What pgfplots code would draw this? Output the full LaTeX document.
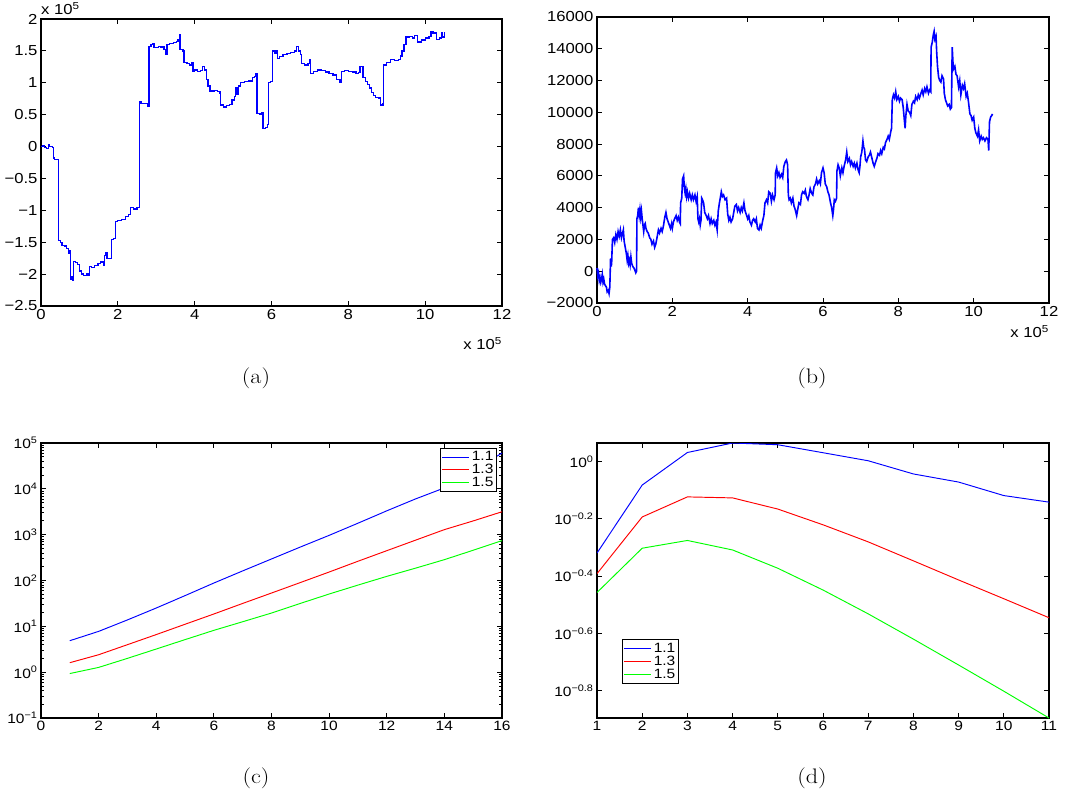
\documentclass[border=0pt]{standalone}
\usepackage{fontspec}
\usepackage{pgfplots}
\pgfplotsset{compat=1.18}
\newfontfamily\hv[FakeStretch=1.15]{Liberation Sans}
\newfontfamily\lmr[FakeStretch=1.15]{Latin Modern Roman}
\definecolor{mblue}{rgb}{0,0,1}
\definecolor{mred}{rgb}{1,0,0}
\definecolor{mgreen}{rgb}{0,1,0}
\pgfplotsset{
  mat/.style={
    scale only axis,
    axis line style={line width=1.1pt},
    every tick/.style={black, line width=0.8pt},
    major tick length=5pt,
    minor tick length=3pt,
    tick align=inside,
    scaled ticks=false,
    tick label style={font=\hv\fontsize{14.5}{15}\selectfont},
    /pgf/number format/assume math mode=true,
  },
  matlog/.style={
    mat,
    tick label style={font=\hv\fontsize{13.5}{14}\selectfont},
    legend cell align=left,
    legend style={draw=black, line width=1pt, font=\hv\fontsize{13.5}{16}\selectfont,
      inner sep=1.5pt, row sep=-2pt},
    legend image code/.code={\draw[#1, line width=1.1pt] (0pt,0pt) -- (27pt,0pt);},
  },
}
\begin{document}
\begin{tikzpicture}
\useasboundingbox (0,0) rectangle (1074pt,807pt);

% ---------------- (a) ----------------
\begin{axis}[mat, at={(41pt,501pt)}, anchor=south west,
  width=461pt, height=287pt,
  xmin=0, xmax=12, ymin=-2.5, ymax=2,
  xtick={0,2,...,12},
  ytick={-2.5,-2,-1.5,-1,-0.5,0,0.5,1,1.5,2},
  yticklabels={−2.5,−2,−1.5,−1,−0.5,0,0.5,1,1.5,2},
  clip=false]
\addplot[const plot, color=mblue, line width=1.3pt] coordinates {
(0,0) (0.05,0.01) (0.1,-0.01) (0.15,-0.03) (0.2,0.03) (0.23,0.0) (0.3,-0.01)
(0.32,-0.18) (0.35,-0.2) (0.45,-0.21) (0.46,-1.47) (0.5,-1.5) (0.55,-1.55)
(0.62,-1.56) (0.67,-1.6) (0.72,-1.68) (0.74,-1.63) (0.76,-2.07) (0.78,-2.09)
(0.8,-2.04) (0.82,-2.1) (0.84,-1.8) (0.9,-1.82) (0.95,-1.85) (1.0,-1.95)
(1.05,-2.0) (1.1,-2.02) (1.2,-2.0) (1.25,-2.02) (1.27,-1.88) (1.32,-1.9)
(1.4,-1.87) (1.48,-1.83) (1.55,-1.81) (1.62,-1.86) (1.65,-1.71) (1.68,-1.67)
(1.72,-1.75) (1.8,-1.76) (1.83,-1.46) (1.88,-1.44) (1.94,-1.18) (2.0,-1.16)
(2.1,-1.14) (2.2,-1.1) (2.28,-1.06) (2.33,-0.96) (2.4,-0.98) (2.5,-0.96)
(2.56,-0.93) (2.57,0.7) (2.6,0.68) (2.7,0.67) (2.78,0.63) (2.81,1.57)
(2.86,1.6) (2.9,1.62) (2.94,1.55) (3.0,1.55) (3.05,1.57) (3.12,1.56)
(3.2,1.52) (3.25,1.45) (3.28,1.6) (3.35,1.62) (3.45,1.63) (3.52,1.65)
(3.57,1.68) (3.6,1.75) (3.62,1.52) (3.7,1.5) (3.72,1.32) (3.8,1.3)
(3.87,1.28) (3.92,1.31) (3.96,1.18) (4.0,1.2) (4.08,1.18) (4.15,1.19)
(4.2,1.26) (4.25,1.2) (4.3,1.05) (4.35,0.95) (4.4,0.87) (4.5,0.88)
(4.6,0.86) (4.66,0.83) (4.68,0.65) (4.75,0.62) (4.82,0.64) (4.9,0.66)
(4.97,0.73) (5.03,0.78) (5.07,0.92) (5.1,0.82) (5.15,0.95) (5.2,1.0)
(5.3,1.02) (5.4,1.03) (5.5,1.08) (5.55,1.1) (5.6,1.15) (5.62,0.52)
(5.7,0.5) (5.75,0.53) (5.78,0.28) (5.85,0.3) (5.9,0.35) (5.92,1.0)
(5.98,1.02) (6.02,1.5) (6.07,1.46) (6.12,1.5) (6.15,1.38) (6.2,1.41)
(6.3,1.44) (6.4,1.46) (6.5,1.48) (6.6,1.5) (6.65,1.57) (6.7,1.5)
(6.75,1.44) (6.78,1.3) (6.85,1.28) (6.95,1.3) (7.0,1.36) (7.02,1.15)
(7.1,1.18) (7.2,1.2) (7.3,1.19) (7.4,1.17) (7.5,1.15) (7.6,1.12)
(7.7,1.05) (7.78,1.0) (7.82,1.18) (7.9,1.19) (8.0,1.18) (8.1,1.17)
(8.2,1.14) (8.27,1.16) (8.3,1.25) (8.37,1.25) (8.38,1.08) (8.45,1.02)
(8.5,0.97) (8.55,0.92) (8.6,0.85) (8.65,0.8) (8.7,0.77) (8.8,0.76)
(8.84,0.65) (8.9,0.68) (8.92,1.28) (9.0,1.32) (9.1,1.36) (9.2,1.35)
(9.3,1.36) (9.35,1.42) (9.4,1.5) (9.45,1.6) (9.5,1.72) (9.6,1.73)
(9.67,1.7) (9.72,1.74) (9.8,1.64) (9.9,1.67) (10.0,1.7) (10.1,1.73)
(10.15,1.8) (10.2,1.78) (10.27,1.78) (10.3,1.68) (10.38,1.7) (10.42,1.78)
(10.45,1.72) (10.5,1.8)
};
\node[anchor=south west, inner sep=0pt, font=\hv\fontsize{14.5}{15}\selectfont] at (rel axis cs:0,1) [yshift=4pt] {x 10\textsuperscript{5}};
\node[anchor=north east, inner sep=0pt, font=\hv\fontsize{14.5}{15}\selectfont] at (rel axis cs:1,0) [yshift=-31pt] {x 10\textsuperscript{5}};
\end{axis}

% ---------------- (b) ----------------
\begin{axis}[mat, at={(597pt,504pt)}, anchor=south west,
  width=452pt, height=286pt,
  xmin=0, xmax=12, ymin=-2000, ymax=16000,
  xtick={0,2,...,12},
  ytick={-2000,0,2000,4000,6000,8000,10000,12000,14000,16000},
  yticklabels={−2000,0,2000,4000,6000,8000,10000,12000,14000,16000},
  clip=false]
\addplot[color=mblue, line width=1.6pt] coordinates {
(0,200) (0.02,-300) (0.04,-100) (0.06,-600) (0.08,-400) (0.1,-700) (0.12,-500)
(0.14,-200) (0.16,-700) (0.18,-500) (0.2,-800) (0.22,-900) (0.25,-1000)
(0.27,-1300) (0.3,-1200) (0.32,-1400) (0.34,-1000) (0.36,800) (0.38,300)
(0.39,600) (0.41,2000) (0.44,2100) (0.47,1800) (0.5,2300) (0.53,2000)
(0.56,2500) (0.59,2200) (0.62,2600) (0.65,2100) (0.68,2400) (0.7,2600)
(0.72,1900) (0.75,1500) (0.78,1100) (0.8,700) (0.82,1000) (0.84,500)
(0.86,700) (0.88,400) (0.9,900) (0.92,500) (0.95,300) (0.98,200) (1.0,100)
(1.03,-100) (1.05,0) (1.06,3300) (1.08,3500) (1.1,4000) (1.12,3500)
(1.14,3900) (1.16,3400) (1.18,3800) (1.2,3300) (1.22,2900) (1.24,2500)
(1.26,2900) (1.28,3000) (1.3,2700) (1.33,2500) (1.36,2400) (1.4,2100)
(1.43,2000) (1.46,1700) (1.5,1900) (1.53,1500) (1.56,1700) (1.6,2200)
(1.63,2600) (1.66,2400) (1.7,2700) (1.73,2500) (1.76,2800) (1.8,3400)
(1.83,3700) (1.86,3300) (1.89,3100) (1.92,2900) (1.95,2700) (1.98,3000)
(2.0,2700) (2.03,3100) (2.06,3300) (2.1,3500) (2.13,3200) (2.16,3400)
(2.19,3100) (2.21,3000) (2.22,4300) (2.25,4600) (2.27,5800) (2.3,6000)
(2.32,5200) (2.34,4900) (2.36,5200) (2.38,4700) (2.4,5000) (2.43,4600)
(2.46,4900) (2.5,4500) (2.53,4800) (2.56,4500) (2.6,4800) (2.63,4400)
(2.66,4700) (2.68,3300) (2.7,3100) (2.72,3300) (2.74,2900) (2.76,3200)
(2.78,4600) (2.8,4500) (2.83,4300) (2.86,3700) (2.9,3500) (2.93,3300)
(2.96,3500) (3.0,3000) (3.03,3300) (3.06,3000) (3.1,3200) (3.13,2900)
(3.16,3100) (3.19,2600) (3.22,3800) (3.25,4300) (3.28,4700) (3.3,5000)
(3.33,4700) (3.36,4800) (3.4,4500) (3.44,4600) (3.47,3600) (3.5,3200)
(3.53,3400) (3.56,3100) (3.6,3300) (3.63,3700) (3.66,4100) (3.7,4200)
(3.73,3800) (3.76,4000) (3.8,3700) (3.83,4000) (3.86,3800) (3.9,4300)
(3.93,3800) (3.96,3600) (4.0,3300) (4.03,3500) (4.06,3100) (4.1,2900)
(4.13,3200) (4.16,3300) (4.2,3100) (4.23,3300) (4.26,2700) (4.3,2600)
(4.33,2900) (4.36,2700) (4.4,3200) (4.43,3500) (4.46,4300) (4.5,4500)
(4.53,4300) (4.56,5000) (4.6,4900) (4.63,4400) (4.66,4800) (4.7,4500)
(4.73,4800) (4.74,6200) (4.77,6500) (4.8,6000) (4.83,6200) (4.86,5900)
(4.9,6100) (4.93,5900) (4.96,6600) (5.0,6900) (5.03,7000) (5.06,6700)
(5.08,4800) (5.1,4500) (5.13,4600) (5.16,4300) (5.2,4600) (5.23,4100)
(5.26,3900) (5.3,3500) (5.33,3900) (5.36,4300) (5.4,4200) (5.43,4800)
(5.46,5000) (5.5,4900) (5.53,5100) (5.56,4700) (5.6,4500) (5.63,4800)
(5.66,5200) (5.7,4900) (5.73,4800) (5.76,5300) (5.8,5500) (5.83,5800)
(5.86,5500) (5.9,5700) (5.93,5500) (5.96,6200) (6.0,6500) (6.03,6200)
(6.06,5500) (6.1,5300) (6.13,5000) (6.16,4800) (6.2,4300) (6.23,4000)
(6.26,3500) (6.28,3900) (6.3,4500) (6.33,4400) (6.36,4600) (6.37,6300)
(6.4,6700) (6.43,6500) (6.46,6000) (6.5,6500) (6.53,6200) (6.56,6600)
(6.6,7000) (6.63,7500) (6.66,6900) (6.7,7100) (6.73,6700) (6.76,6900)
(6.8,6600) (6.83,6800) (6.86,6500) (6.9,6800) (6.93,6400) (6.96,6200)
(6.98,6600) (7.0,7200) (7.03,7500) (7.06,8200) (7.08,7800) (7.1,7700)
(7.13,7000) (7.16,6900) (7.2,7200) (7.23,7300) (7.26,7500) (7.3,7100)
(7.33,6800) (7.36,6600) (7.4,6900) (7.43,7100) (7.46,7400) (7.5,7300)
(7.53,7600) (7.56,7400) (7.6,7800) (7.63,7700) (7.66,8100) (7.7,8300)
(7.73,8500) (7.76,8300) (7.8,8800) (7.82,9000) (7.84,10800) (7.87,11100)
(7.9,10900) (7.93,11300) (7.96,10800) (8.0,11000) (8.03,10700) (8.06,10900)
(8.1,10800) (8.13,10300) (8.16,9500) (8.18,9000) (8.2,9800) (8.23,10500)
(8.26,10100) (8.3,10000) (8.33,9800) (8.36,10500) (8.4,10700) (8.43,10600)
(8.46,11000) (8.5,10800) (8.53,11100) (8.56,10900) (8.6,11200) (8.63,11400)
(8.66,11100) (8.7,11500) (8.73,11300) (8.76,11600) (8.8,11200) (8.83,11400)
(8.86,11300) (8.87,14100) (8.9,14400) (8.93,14900) (8.95,15100) (8.97,14600)
(9.0,14800) (9.02,13700) (9.04,12900) (9.07,12200) (9.1,12000) (9.13,11900)
(9.16,12300) (9.2,12100) (9.22,11200) (9.25,10800) (9.28,10600) (9.31,10400)
(9.35,10500) (9.38,10200) (9.41,10300) (9.43,14100) (9.46,12700) (9.5,12900)
(9.53,12400) (9.56,12300) (9.6,11600) (9.63,12000) (9.66,11100) (9.7,11700)
(9.73,11500) (9.76,11800) (9.8,11000) (9.83,11200) (9.86,10700) (9.9,9900)
(9.93,9800) (9.96,9500) (10.0,9700) (10.03,9000) (10.06,8700) (10.1,8500)
(10.13,8900) (10.16,8200) (10.2,8500) (10.23,8300) (10.26,8400) (10.3,8200)
(10.34,8400) (10.38,8300) (10.4,7600) (10.42,9400) (10.45,9700) (10.48,9800)
(10.5,9900)
};
\node[anchor=north east, inner sep=0pt, font=\hv\fontsize{14.5}{15}\selectfont] at (rel axis cs:1,0) [yshift=-22pt] {x 10\textsuperscript{5}};
\end{axis}

% ---------------- (c) ----------------
\begin{axis}[matlog, at={(41pt,89pt)}, anchor=south west,
  width=461pt, height=275pt,
  ymode=log,
  xmin=0, xmax=16, ymin=0.1, ymax=100000,
  xtick={0,2,...,16},
  ytick={0.1,1,10,100,1000,10000,100000},
  yticklabels={10\textsuperscript{−1},10\textsuperscript{0},10\textsuperscript{1},10\textsuperscript{2},10\textsuperscript{3},10\textsuperscript{4},10\textsuperscript{5}},
  minor ytick={0.2,0.3,0.4,0.5,0.6,0.7,0.8,0.9,2,3,4,5,6,7,8,9,20,30,40,50,60,70,80,90,200,300,400,500,600,700,800,900,2000,3000,4000,5000,6000,7000,8000,9000,20000,30000,40000,50000,60000,70000,80000,90000},
  legend style={at={(rel axis cs:0.99,0.983)}, anchor=north east},
  ]
\addplot[color=mblue, line width=0.95pt] coordinates {
(1,4.86) (2,7.76) (3,13.8) (4,25.1) (5,46.8) (6,88.1) (7,162) (8,295)
(9,537) (10,966) (11,1778) (12,3311) (13,6026) (14,10470) (15,25119) (16,60256)
};
\addlegendentry{1.1}
\addplot[color=mred, line width=0.95pt] coordinates {
(1,1.61) (2,2.40) (3,3.98) (4,6.61) (5,11.1) (6,18.6) (7,31.6) (8,53.3)
(9,90.2) (10,153) (11,263) (12,447) (13,759) (14,1288) (15,1995) (16,3162)
};
\addlegendentry{1.3}
\addplot[color=mgreen, line width=0.95pt] coordinates {
(1,0.933) (2,1.27) (3,2.0) (4,3.20) (5,5.13) (6,8.18) (7,12.6) (8,19.5)
(9,31.6) (10,50.7) (11,79.4) (12,123) (13,186) (14,285) (15,457) (16,741)
};
\addlegendentry{1.5}
\end{axis}

% ---------------- (d) ----------------
\begin{axis}[matlog, at={(597pt,89pt)}, anchor=south west,
  width=452pt, height=275pt,
  ymode=log,
  xmin=1, xmax=11, ymin=0.1274, ymax=1.159,
  xtick={1,2,...,11},
  ytick={0.158489,0.251189,0.398107,0.630957,1},
  yticklabels={10\textsuperscript{−0.8},10\textsuperscript{−0.6},10\textsuperscript{−0.4},10\textsuperscript{−0.2},10\textsuperscript{0}},
  minor ytick={},
  legend style={at={(rel axis cs:0.0546,0.124)}, anchor=south west},
  ]
\addplot[color=mblue, line width=0.95pt] coordinates {
(1,0.479) (2,0.827) (3,1.074) (4,1.159) (5,1.143) (6,1.072) (7,1.005)
(8,0.904) (9,0.847) (10,0.760) (11,0.721)
};
\addlegendentry{1.1}
\addplot[color=mred, line width=0.95pt] coordinates {
(1,0.406) (2,0.640) (3,0.752) (4,0.746) (5,0.682) (6,0.601) (7,0.524)
(8,0.450) (9,0.386) (10,0.332) (11,0.285)
};
\addlegendentry{1.3}
\addplot[color=mgreen, line width=0.95pt] coordinates {
(1,0.349) (2,0.498) (3,0.530) (4,0.491) (5,0.424) (6,0.356) (7,0.294)
(8,0.240) (9,0.195) (10,0.158) (11,0.1274)
};
\addlegendentry{1.5}
\end{axis}

% captions
\node[font=\lmr\fontsize{21}{25}\selectfont] at (256pt,429pt) {(a)};
\node[font=\lmr\fontsize{21}{25}\selectfont] at (812pt,429pt) {(b)};
\node[font=\lmr\fontsize{21}{25}\selectfont] at (256pt,29pt) {(c)};
\node[font=\lmr\fontsize{21}{25}\selectfont] at (812pt,29pt) {(d)};
\end{tikzpicture}
\end{document}
